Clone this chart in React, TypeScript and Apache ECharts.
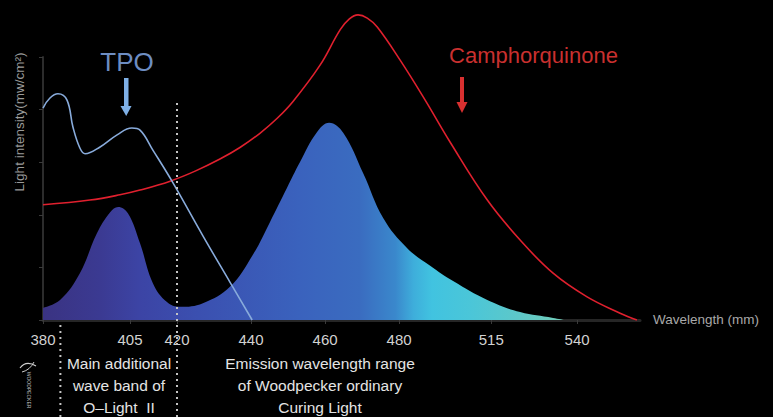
import React, { useEffect, useRef } from 'react';
import * as echarts from 'echarts';

// Tick labels (true wavelength, nm) and their places on the stylised, uneven axis
const WAVELENGTH_TICKS = [380, 405, 420, 440, 460, 480, 515, 540];
const TICK_AXIS_POS = [383.8, 407.3, 420, 440, 460, 480, 504.9, 528.1];
const AXIS_END_WL = 558.3;

// Camphorquinone absorption (red)
const CQ_WL = [380, 393.5, 402.1, 408.2, 417.8, 424.9, 431.6, 437.0, 442.4, 447.0, 451.4, 458.6, 464.1, 466.5, 468.9, 471.4, 474.1, 480.4, 489.9, 499.4, 513.5, 523.4, 533.0, 542.9, 552.5, 557.4];
const CQ_VAL = [2.19, 2.28, 2.38, 2.47, 2.64, 2.83, 3.06, 3.28, 3.55, 3.83, 4.16, 4.84, 5.52, 5.72, 5.80, 5.74, 5.57, 4.94, 4.18, 3.38, 2.28, 1.52, 0.89, 0.44, 0.13, 0.0];

// TPO absorption (light blue)
const TPO_WL = [380, 382.0, 384.3, 386.9, 388.6, 390.6, 392.1, 396.4, 401.3, 405.6, 408.2, 412.3, 418.4, 427.0, 434.3, 440.3];
const TPO_VAL = [4.03, 4.22, 4.30, 4.18, 3.67, 3.27, 3.16, 3.29, 3.52, 3.65, 3.61, 3.23, 2.64, 1.60, 0.72, 0.0];

// Light emission (filled)
const EM_WL = [380, 384.9, 390.6, 395.5, 399.3, 401.6, 404.4, 408.2, 412.3, 416.8, 420.8, 427.0, 434.3, 440.5, 445.1, 449.7, 453.2, 457.8, 461.1, 464.9, 470.3, 475.7, 483.0, 491.8, 500.5, 513.5, 523.4, 533.0, 536.5];
const EM_VAL = [0.23, 0.38, 0.89, 1.65, 2.05, 2.15, 2.03, 1.46, 0.70, 0.34, 0.25, 0.32, 0.63, 1.24, 1.86, 2.51, 3.00, 3.57, 3.75, 3.56, 2.79, 1.94, 1.37, 1.03, 0.74, 0.38, 0.15, 0.04, 0];

const BAND_WL = [385, 420];

function toAxis(wl: number): number {
  const T = WAVELENGTH_TICKS;
  const P = TICK_AXIS_POS;
  let i = 0;
  while (i < T.length - 2 && wl > T[i + 1]) i++;
  return P[i] + ((wl - T[i]) * (P[i + 1] - P[i])) / (T[i + 1] - T[i]);
}

const pairs = (xs: number[], ys: number[]) => xs.map((x, i) => [toAxis(x), ys[i]]);

const FONT = '"Liberation Sans", Arial, Helvetica, sans-serif';

export default function App() {
  const ref = useRef<HTMLDivElement>(null);
  useEffect(() => {
    if (!ref.current) return;
    const chart = echarts.init(ref.current, undefined, { renderer: 'svg' });
    const option: any = {
      animation: false,
      backgroundColor: '#000000',
      grid: { left: 43, right: 133, top: 57, bottom: 97 },
      xAxis: {
        type: 'value',
        min: toAxis(380),
        max: toAxis(AXIS_END_WL),
        splitLine: { show: false },
        axisLine: { show: true, onZero: false, lineStyle: { color: '#262626', width: 3 } },
        axisTick: {
          show: true,
          customValues: TICK_AXIS_POS,
          length: 4,
          lineStyle: { color: '#3a3a3a', width: 1 },
        },
        axisLabel: {
          customValues: TICK_AXIS_POS,
          showMinLabel: true,
          showMaxLabel: true,
          margin: 12,
          color: '#d2d2d2',
          fontSize: 15,
          fontFamily: FONT,
          formatter: (v: number) => {
            const idx = TICK_AXIS_POS.findIndex((p) => Math.abs(p - v) < 0.01);
            return idx >= 0 ? String(WAVELENGTH_TICKS[idx]) : '';
          },
        },
      },
      yAxis: {
        type: 'value',
        min: 0,
        max: 5,
        interval: 1,
        splitLine: { show: false },
        axisLabel: { show: false },
        axisLine: { show: true, lineStyle: { color: '#2c2c2c', width: 2 } },
        axisTick: { show: true, length: 4, lineStyle: { color: '#3a3a3a', width: 1 } },
      },
      series: [
        {
          name: 'Emission',
          type: 'line',
          data: pairs(EM_WL, EM_VAL),
          smooth: 0.4,
          showSymbol: false,
          lineStyle: { width: 0 },
          areaStyle: {
            opacity: 1,
            color: new echarts.graphic.LinearGradient(0, 0, 1, 0, [
              { offset: 0, color: '#3a3382' },
              { offset: 0.11, color: '#3b3a92' },
              { offset: 0.186, color: '#3c44a5' },
              { offset: 0.3, color: '#3b50b0' },
              { offset: 0.49, color: '#3a62bd' },
              { offset: 0.607, color: '#3a6cc0' },
              { offset: 0.675, color: '#3a88cc' },
              { offset: 0.71, color: '#3eaedb' },
              { offset: 0.745, color: '#41c3e0' },
              { offset: 0.82, color: '#4bc6d8' },
              { offset: 0.914, color: '#5ec8c8' },
              { offset: 1, color: '#72cdb8' },
            ]),
          },
          z: 1,
        },
        {
          name: 'Camphorquinone',
          type: 'line',
          data: pairs(CQ_WL, CQ_VAL),
          smooth: 0.4,
          showSymbol: false,
          clip: false,
          lineStyle: { color: '#e0202e', width: 1.6 },
          z: 3,
        },
        {
          name: 'TPO',
          type: 'line',
          data: pairs(TPO_WL, TPO_VAL),
          smooth: 0.4,
          showSymbol: false,
          lineStyle: { color: '#88abdb', width: 1.6 },
          z: 4,
        },
      ],
    };
    chart.setOption(option);

    const bandX = BAND_WL.map((w) => chart.convertToPixel({ xAxisIndex: 0 }, toAxis(w)) as number);

    const text = (x: number, y: number, t: string, size: number, fill: string, align = 'center', extra: any = {}) => ({
      type: 'text',
      x,
      y,
      silent: true,
      rotation: extra.rotation || 0,
      style: {
        text: t,
        fill,
        fontSize: size,
        fontFamily: FONT,
        textAlign: align,
        align,
        textVerticalAlign: extra.vAlign || 'middle',
        verticalAlign: extra.vAlign || 'middle',
        lineHeight: extra.lineHeight,
      },
    });

    chart.setOption({
      graphic: [
        {
          type: 'line',
          silent: true,
          shape: { x1: bandX[1], y1: 103, x2: bandX[1], y2: 417 },
          style: { stroke: '#c4c4c4', lineWidth: 2, lineDash: [2, 4] },
          z: 10,
        },
        {
          type: 'line',
          silent: true,
          shape: { x1: bandX[0], y1: 325, x2: bandX[0], y2: 417 },
          style: { stroke: '#c4c4c4', lineWidth: 2, lineDash: [2, 4] },
          z: 10,
        },
        text(127, 62, 'TPO', 26, '#6d8dc2'),
        text(533.5, 55, 'Camphorquinone', 22, '#c9302f'),
        {
          type: 'group',
          silent: true,
          children: [
            { type: 'rect', shape: { x: 124, y: 78, width: 4.5, height: 29 }, style: { fill: '#7fb0e6' } },
            { type: 'polygon', shape: { points: [[120.5, 106], [131.5, 106], [126.2, 116]] }, style: { fill: '#7fb0e6' } },
            { type: 'rect', shape: { x: 460, y: 77, width: 4, height: 26 }, style: { fill: '#d83030' } },
            { type: 'polygon', shape: { points: [[456.5, 102], [467.5, 102], [462, 113]] }, style: { fill: '#d83030' } },
          ],
        },
        text(19, 122, 'Light intensity(mw/cm²)', 13.5, '#9a9a9a', 'center', { rotation: Math.PI / 2 }),
        text(653, 319, 'Wavelength (mm)', 13.5, '#a8a8a8', 'left'),
        text(119, 352, 'Main additional\nwave band of\nO–Light  II', 15.5, '#e4e4e4', 'center', { vAlign: 'top', lineHeight: 22 }),
        text(320, 352, 'Emission wavelength range\nof Woodpecker ordinary\nCuring Light', 15.5, '#e4e4e4', 'center', { vAlign: 'top', lineHeight: 22 }),
        text(29, 390, 'WOODPECKER', 5, '#bdbdbd', 'center', { rotation: -Math.PI / 2 }),
        {
          type: 'bezierCurve',
          silent: true,
          shape: { x1: 20, y1: 368, cpx1: 26, cpy1: 360, x2: 36, y2: 366 },
          style: { stroke: '#cfcfcf', lineWidth: 1.2, fill: 'none' },
        },
        {
          type: 'bezierCurve',
          silent: true,
          shape: { x1: 22, y1: 372, cpx1: 30, cpy1: 370, x2: 34, y2: 362 },
          style: { stroke: '#cfcfcf', lineWidth: 1, fill: 'none' },
        },
      ],
    });

    return () => chart.dispose();
  }, []);

  return (
    <div
      ref={ref}
      style={{ position: 'absolute', left: 0, top: 0, width: 773, height: 417, background: '#000' }}
    />
  );
}
